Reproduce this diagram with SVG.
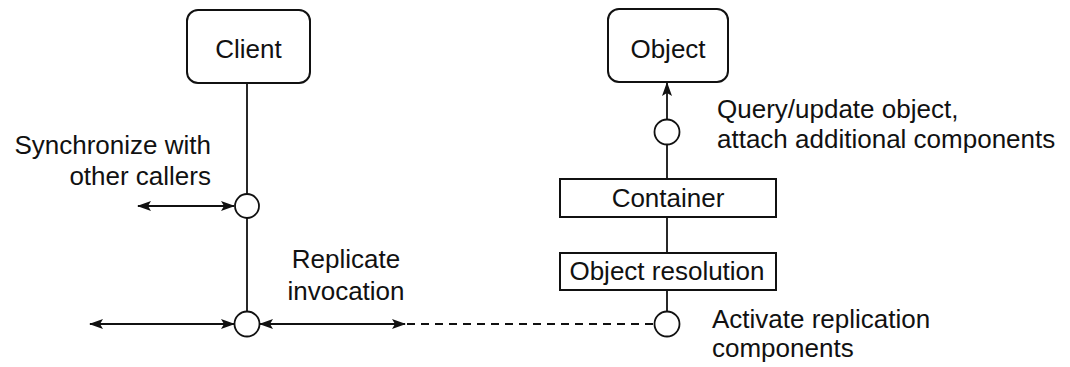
<svg xmlns="http://www.w3.org/2000/svg" width="1070" height="367" viewBox="0 0 1070 367">
<style>
  text { font-family: "Liberation Sans", Arial, sans-serif; font-size: 26px; fill: #111; }
  .box { fill: #fff; stroke: #111; stroke-width: 2; }
  .ln { stroke: #111; stroke-width: 1.8; fill: none; }
  .dash { stroke: #111; stroke-width: 1.8; fill: none; stroke-dasharray: 8 6; }
  .port { fill: #fff; stroke: #111; stroke-width: 1.8; }
</style>
<defs>
  <marker id="ah" viewBox="0 0 14 10" refX="13" refY="5" markerWidth="14" markerHeight="10" markerUnits="userSpaceOnUse" orient="auto-start-reverse">
    <path d="M0,0 L14,5 L0,10 L3,5 z" fill="#111"/>
  </marker>
</defs>
<rect width="1070" height="367" fill="#fff"/>
<g id="connectors">
  <line class="ln" x1="247" y1="83" x2="247" y2="194"/>
  <line class="ln" x1="247" y1="218" x2="247" y2="312"/>
  <line class="ln" x1="138" y1="206" x2="234" y2="206" marker-start="url(#ah)" marker-end="url(#ah)"/>
  <line class="ln" x1="90" y1="324" x2="234" y2="324" marker-start="url(#ah)" marker-end="url(#ah)"/>
  <line class="ln" x1="260" y1="324" x2="405" y2="324" marker-start="url(#ah)" marker-end="url(#ah)"/>
  <line class="dash" x1="407" y1="324" x2="654" y2="324"/>
  <line class="ln" x1="667" y1="119" x2="667" y2="83" marker-end="url(#ah)"/>
  <line class="ln" x1="667" y1="145" x2="667" y2="179"/>
  <line class="ln" x1="667" y1="217" x2="667" y2="253"/>
  <line class="ln" x1="667" y1="290" x2="667" y2="312"/>
</g>
<g id="client">
  <rect class="box" x="187" y="10" width="123" height="73" rx="11"/>
  <text x="248.5" y="58" text-anchor="middle">Client</text>
</g>
<g id="object">
  <rect class="box" x="608" y="9" width="120" height="73" rx="11"/>
  <text x="668" y="58" text-anchor="middle">Object</text>
</g>
<g id="container">
  <rect class="box" x="560" y="179" width="216" height="38"/>
  <text x="668" y="207" text-anchor="middle">Container</text>
</g>
<g id="object-resolution">
  <rect class="box" x="560" y="253" width="216" height="37"/>
  <text x="667" y="280" text-anchor="middle">Object resolution</text>
</g>
<g id="port-sync">
  <circle class="port" cx="247" cy="206" r="12"/>
</g>
<g id="port-replicate">
  <circle class="port" cx="247" cy="324" r="12.5"/>
</g>
<g id="port-query">
  <circle class="port" cx="667" cy="132" r="12.5"/>
</g>
<g id="port-activate">
  <circle class="port" cx="667" cy="324" r="12.5"/>
</g>
<g id="labels">
  <text x="211" y="154" text-anchor="end">Synchronize with</text>
  <text x="211" y="185" text-anchor="end">other callers</text>
  <text x="346" y="268" text-anchor="middle">Replicate</text>
  <text x="346" y="300" text-anchor="middle">invocation</text>
  <text x="717" y="118">Query/update object,</text>
  <text x="717" y="148">attach additional components</text>
  <text x="712" y="328">Activate replication</text>
  <text x="712" y="357">components</text>
</g>
</svg>
